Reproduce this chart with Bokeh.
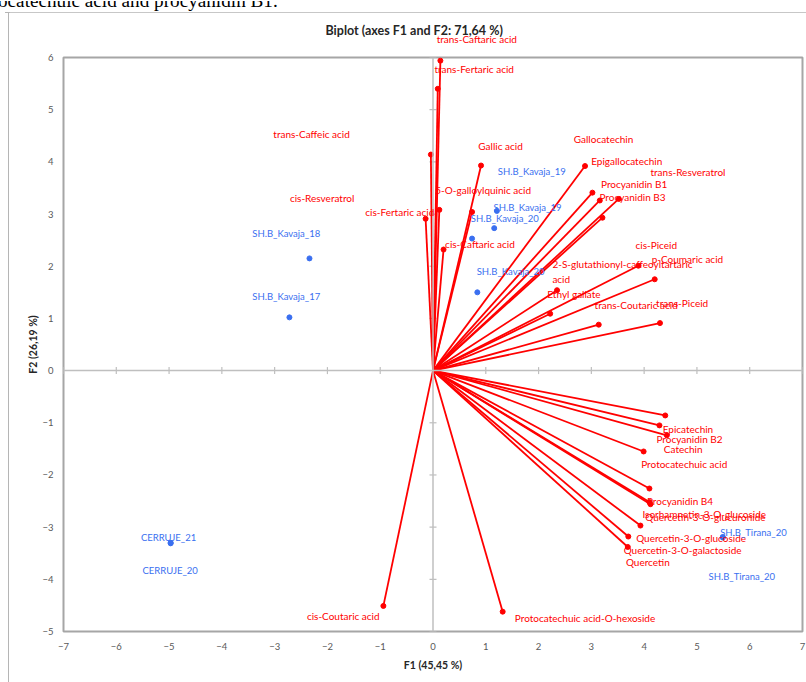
import numpy as np
from bokeh.plotting import figure
from bokeh.layouts import column, row
from bokeh.models import (ColumnDataSource, LabelSet, Span, Range1d, FixedTicker,
                          LinearAxis, Title, Div)
from bokeh.core.properties import value
from bokeh.embed import file_html
from bokeh.resources import INLINE

# ---------------- data ----------------
var_names = [
    "trans-Caftaric acid", "trans-Fertaric acid", "trans-Caffeic acid", "Gallic acid",
    "5-O-galloylquinic acid", "cis-Fertaric acid", "cis-Resveratrol", "cis-Caftaric acid",
    "Epigallocatechin", "Procyanidin B1", "Procyanidin B3", "trans-Resveratrol",
    "Gallocatechin", "cis-Piceid", "p-Coumaric acid", "Ethyl gallate",
    "2-S-glutathionyl-caffeoyltartaric\nacid", "trans-Coutaric acid", "trans-Piceid",
    "Epicatechin", "Procyanidin B2", "Catechin", "Protocatechuic acid", "Procyanidin B4",
    "Isorhamnetin-3-O-glucoside", "Quercetin-3-O-glucuronide", "Quercetin-3-O-glucoside",
    "Quercetin-3-O-galactoside", "Quercetin", "cis-Coutaric acid",
    "Protocatechuic acid-O-hexoside",
]
var_f1 = [0.14, 0.09, -0.04, 0.91, 0.12, -0.14, 0.74, 0.20,
          2.88, 3.02, 3.16, 3.52, 3.21, 3.89, 4.20, 2.35,
          2.22, 3.14, 4.30, 4.40, 4.29, 4.43, 3.99, 4.10,
          4.10, 4.12, 3.93, 3.70, 3.69, -0.94, 1.32]
var_f2 = [5.94, 5.40, 4.14, 3.93, 3.08, 2.91, 3.04, 2.32,
          3.92, 3.41, 3.26, 3.29, 2.93, 2.01, 1.75, 1.54,
          1.09, 0.88, 0.91, -0.86, -1.05, -1.24, -1.55, -2.26,
          -2.52, -2.56, -2.97, -3.18, -3.38, -4.51, -4.62]
var_label_f1 = [0.83, 0.78, -2.30, 1.28, 0.95, -0.63, -2.10, 0.89,
                3.67, 3.81, 3.78, 4.83, 3.23, 4.23, 4.82, 2.67,
                3.59, 3.85, 4.72, 4.83, 4.86, 4.74, 4.76, 4.68,
                5.14, 5.16, 4.89, 4.73, 4.07, -1.70, 2.88]
var_label_f2 = [6.33, 5.78, 4.54, 4.31, 3.47, 3.03, 3.30, 2.42,
                4.01, 3.57, 3.32, 3.80, 4.43, 2.40, 2.14, 1.47,
                1.90, 1.25, 1.29, -1.12, -1.31, -1.50, -1.79, -2.49,
                -2.74, -2.80, -3.20, -3.43, -3.67, -4.71, -4.75]

obs_names = ["SH.B_Kavaja_18", "SH.B_Kavaja_17", "SH.B_Kavaja_19", "SH.B_Kavaja_19",
             "SH.B_Kavaja_20", "SH.B_Kavaja_20", "CERRUJE_21", "CERRUJE_20",
             "SH.B_Tirana_20", "SH.B_Tirana_20"]
obs_f1 = [-2.34, -2.72, 1.21, 1.16, 0.74, 0.84, -4.97, -4.97, 5.49, 5.49]
obs_f2 = [2.15, 1.02, 3.06, 2.73, 2.53, 1.50, -3.30, -3.31, -3.19, -3.20]
obs_label_f1 = [-2.78, -2.78, 1.87, 1.79, 1.36, 1.47, -5.01, -4.98, 6.07, 5.85]
obs_label_f2 = [2.62, 1.42, 3.82, 3.13, 2.91, 1.89, -3.20, -3.83, -3.10, -3.94]

x_ticks = list(range(-7, 8))
y_ticks = list(range(-5, 7))

title_text = "Biplot (axes F1 and F2: 71,64 %)"
x_title = "F1 (45,45 %)"
y_title = "F2 (26,19 %)"
page_fragment = "ocatechuic acid and procyanidin B1."

# ---------------- figure ----------------
FONT = "Lato"
RED = "#ff0000"
BLUE = "#3a6ff0"
GRAY_TXT = "#595959"
FRAME_GRAY = "#a6a6a6"
ZERO_GRAY = "#bfbfbf"
BOX_GRAY = "#b5b5b5"

x_lo, x_hi = min(x_ticks), max(x_ticks)
y_lo, y_hi = min(y_ticks), max(y_ticks)

p = figure(width=797, height=670, output_backend="svg", toolbar_location=None,
           title=None, x_range=Range1d(x_lo, x_hi), y_range=Range1d(y_lo, y_hi),
           min_border_left=54, min_border_right=4, min_border_top=45, min_border_bottom=51)
p.background_fill_color = "white"
p.border_fill_color = "white"
p.outline_line_color = FRAME_GRAY
p.outline_line_width = 2
p.xgrid.visible = False
p.ygrid.visible = False

for ax in (p.xaxis[0], p.yaxis[0]):
    ax.axis_line_color = None
    ax.major_tick_line_color = None
    ax.minor_tick_line_color = None
    ax.major_label_text_font = FONT
    ax.major_label_text_font_size = "9.5px"
    ax.major_label_text_color = GRAY_TXT
    ax.axis_label_text_font = FONT
    ax.axis_label_text_font_style = "bold"
    ax.axis_label_text_font_size = "10.5px"
    ax.axis_label_text_color = "#262626"

p.xaxis.ticker = FixedTicker(ticks=x_ticks)
p.yaxis.ticker = FixedTicker(ticks=y_ticks)
p.xaxis.major_label_standoff = 5
p.yaxis.major_label_standoff = 4
p.xaxis.axis_label = x_title
p.yaxis.axis_label = y_title
p.xaxis.axis_label_standoff = 6
p.yaxis.axis_label_standoff = 0

# zero axes with their tick marks
p.add_layout(Span(location=0, dimension="height", line_color=ZERO_GRAY, line_width=1.5))
p.add_layout(Span(location=0, dimension="width", line_color=ZERO_GRAY, line_width=1.5))
p.scatter(x=[0] * len(y_ticks), y=y_ticks, marker="dash", size=7,
          line_color=ZERO_GRAY, line_width=1.2)
p.scatter(x=x_ticks, y=[0] * len(x_ticks), marker="dash", size=7, angle=np.pi / 2,
          line_color=ZERO_GRAY, line_width=1.2)

# variables (vectors)
var_src = ColumnDataSource(dict(name=var_names, f1=var_f1, f2=var_f2))
p.segment(x0=0, y0=0, x1="f1", y1="f2", source=var_src, line_color=RED, line_width=1.8)
p.scatter(x="f1", y="f2", source=var_src, size=5, fill_color=RED, line_color=RED)

inside = [i for i in range(len(var_names)) if var_label_f2[i] <= y_hi]
outside = [i for i in range(len(var_names)) if var_label_f2[i] > y_hi]
lab_src = ColumnDataSource(dict(name=[var_names[i] for i in inside],
                                lx=[var_label_f1[i] for i in inside],
                                ly=[var_label_f2[i] for i in inside]))
p.add_layout(LabelSet(x="lx", y="ly", text="name", source=lab_src,
                      text_font=value(FONT), text_font_size=value("10px"), text_color=RED,
                      text_align="center", text_baseline="middle"))

# labels that sit above the plot box: drawn by an axis on the same x scale
top_axis = LinearAxis(ticker=FixedTicker(ticks=[var_label_f1[i] for i in outside]),
                      major_label_overrides={var_label_f1[i]: var_names[i] for i in outside})
top_axis.axis_line_color = None
top_axis.major_tick_line_color = None
top_axis.minor_tick_line_color = None
top_axis.major_label_standoff = 7
top_axis.major_label_text_font = FONT
top_axis.major_label_text_font_size = "10px"
top_axis.major_label_text_color = RED
p.add_layout(top_axis, "above")

# observations
obs_src = ColumnDataSource(dict(name=obs_names, f1=obs_f1, f2=obs_f2,
                                lx=obs_label_f1, ly=obs_label_f2))
p.scatter(x="f1", y="f2", source=obs_src, size=5, fill_color=BLUE, line_color=BLUE)
p.add_layout(LabelSet(x="lx", y="ly", text="name", source=obs_src,
                      text_font=value(FONT), text_font_size=value("9.5px"), text_color=BLUE,
                      text_align="center", text_baseline="middle"))

# title
p.add_layout(Title(text=title_text, align="left", offset=262, standoff=-16,
                   vertical_align="bottom", text_font=FONT, text_font_style="bold",
                   text_font_size="12.5px", text_color="#262626"), "above")

# surrounding page: cut-off sentence and the box drawn round the chart
top_html = (
    '<div style="position:relative;width:806px;height:11px;overflow:hidden;">'
    '<span style="position:absolute;left:-2px;top:-10px;white-space:nowrap;'
    "font-family:'Liberation Serif';font-size:19.2px;line-height:20px;color:#000;\">"
    + page_fragment + '</span></div>'
    '<div style="margin-left:5px;height:0;border-top:1px solid ' + BOX_GRAY + ';"></div>'
)
top_div = Div(text=top_html, width=806, height=12, margin=0)
left_div = Div(text="", width=9, height=670, margin=0,
               styles={"background": "linear-gradient(to right, transparent 8px, "
                                     + BOX_GRAY + " 8px, " + BOX_GRAY + " 9px)"})

layout = column(top_div, row(left_div, p, spacing=0), spacing=0)

open("out.html", "w").write(file_html(layout, INLINE))
